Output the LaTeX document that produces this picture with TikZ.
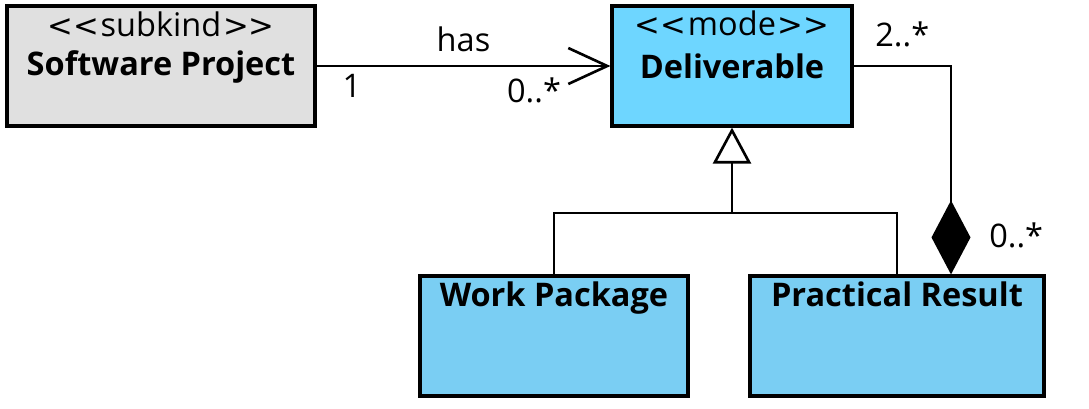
\documentclass[tikz,border=0pt]{standalone}
\usepackage{fontspec}
\setmainfont{Open Sans}
\newfontfamily\arrowfont{DejaVu Sans}
\usepackage{tikz}
\usetikzlibrary{shapes,arrows,arrows.meta,positioning}
\definecolor{kindgray}{RGB}{224,224,224}
\definecolor{modeblue}{RGB}{110,214,255}
\definecolor{subblue}{RGB}{122,206,243}
\tikzstyle{cbox} = [rectangle, draw, line width=1.8pt, inner sep=0pt]
\tikzstyle{ctext} = [inner sep=0pt, anchor=base, font=\fontsize{18.5}{22}\selectfont]
\tikzstyle{cname} = [ctext, font=\fontsize{18.5}{22}\selectfont\bfseries]
\tikzstyle{mult} = [inner sep=0pt, font=\fontsize{18.5}{22}\selectfont]
\tikzstyle{line} = [draw, line width=1.5pt]
\newcommand{\stereo}[1]{{\arrowfont\fontsize{17.5}{22}\selectfont<\kern0pt<}\kern1pt#1\kern1pt{\arrowfont\fontsize{17.5}{22}\selectfont>\kern0pt>}}

\begin{document}
\begin{tikzpicture}
			\useasboundingbox (0,0) rectangle (21.78,-8.16);

			\node [cbox, fill=kindgray, minimum width=6.16cm, minimum height=2.4cm] (proj) at (3.22,-1.32) {};
			\node [cbox, fill=modeblue, minimum width=4.8cm, minimum height=2.4cm] (deliv) at (14.64,-1.32) {};
			\node [cbox, fill=subblue, minimum width=5.36cm, minimum height=2.4cm] (wp) at (11.08,-6.72) {};
			\node [cbox, fill=subblue, minimum width=5.88cm, minimum height=2.4cm] (pr) at (17.94,-6.72) {};

			\node [ctext] (projst) at ([yshift=-0.64cm]proj.north) {\stereo{subkind}};
			\node [cname] (projname) at ([yshift=-1.42cm]proj.north) {Software Project};
			\node [ctext] (delivst) at ([yshift=-0.62cm]deliv.north) {\stereo{mode}};
			\node [cname] (delivname) at ([yshift=-1.49cm]deliv.north) {Deliverable};
			\node [cname] (wpname) at ([yshift=-0.64cm]wp.north) {Work Package};
			\node [cname] (prname) at ([yshift=-0.64cm]pr.north) {Practical Result};

			\coordinate (genjoin) at (14.64,-4.26);
			\coordinate (compbend) at (19.02,-1.32);

			\path [line, -{Straight Barb[length=0.78cm, width=0.72cm]}] (proj.east) --
				node [mult, above=0.26cm] (haslbl) {has}
				node [mult, pos=0.12, below=0.13cm] (projmult) {1}
				node [mult, pos=0.74, below=0.2cm] (delivmult) {0..*} (deliv.west);
			\path [line, -{Triangle[length=0.72cm, width=0.76cm, fill=white]}] (wp.north) |- (genjoin) -- (deliv.south);
			\path [line] (pr.north) |- (genjoin);
			\path [line, -{Diamond[length=1.48cm, width=0.78cm]}] (deliv.east) --
				node [mult, above=0.36cm] (wholemult) {2..*} (compbend) --
				node [mult, pos=0.815, right=0.74cm] (partmult) {0..*} (compbend |- pr.north);
		\end{tikzpicture}
\end{document}
